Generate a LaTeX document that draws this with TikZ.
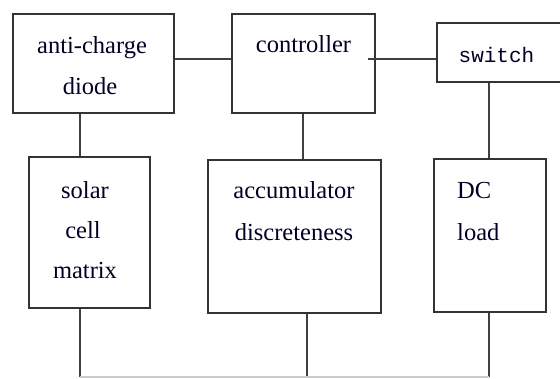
\documentclass[tikz,border=0pt]{standalone}
\usepackage{fontspec}
\setmainfont{Liberation Serif}
\setmonofont{Liberation Mono}
\begin{document}
\begin{tikzpicture}[x=1pt,y=-1pt,
  box/.style={draw=black!80, line width=2pt, rectangle, inner sep=0pt},
  wire/.style={draw=black!75, line width=2pt},
  faint/.style={draw=black!20, line width=1.2pt},
  lbl/.style={anchor=base, inner sep=0pt, text=black!85!blue, font=\fontsize{24.5}{24.5}\selectfont}]
\useasboundingbox (0,0) rectangle (560,378);
\clip (0,0) rectangle (560,378);
% boxes
\node[box, minimum width=161pt, minimum height=99pt] (diode) at (93.5,63.5) {};
\node[box, minimum width=143pt, minimum height=99pt] (ctrl) at (303.5,63.5) {};
\node[box, minimum width=140pt, minimum height=59pt] (sw) at (507,52.5) {};
\node[box, minimum width=121pt, minimum height=151pt] (solar) at (89.5,232.5) {};
\node[box, minimum width=173pt, minimum height=153pt] (acc) at (294.5,236) {};
\node[box, minimum width=112pt, minimum height=153pt] (dc) at (490,235.5) {};
% texts
\node[lbl] (t1) at (92,53) {anti-charge};
\node[lbl] (t2) at (90,94) {diode};
\node[lbl] (t3) at (303.5,52) {controller};
\node[lbl, font=\ttfamily\fontsize{21}{21}\selectfont] (t4) at (496.5,62) {switch};
\node[lbl] (t5) at (85,198) {solar};
\node[lbl] (t6) at (83,238) {cell};
\node[lbl] (t7) at (85,278) {matrix};
\node[lbl] (t8) at (294,198) {accumulator};
\node[lbl] (t9) at (294,240) {discreteness};
\node[lbl, anchor=base west] (t10) at (457,198) {DC};
\node[lbl, anchor=base west] (t11) at (457,240) {load};
% bottom ends
\coordinate (b1) at (80,377);
\coordinate (b2) at (307,377);
\coordinate (b3) at (488.5,377);
% connectors
\draw[wire] (diode.east |- 0,59) -- (ctrl.west |- 0,59);
\draw[wire] (368,59) -- (sw.west |- 0,59);
\draw[wire] (diode.south -| 80,0) -- (solar.north -| 80,0);
\draw[wire] (ctrl.south -| 303,0) -- (acc.north -| 303,0);
\draw[wire] (sw.south -| 488.5,0) -- (dc.north -| 488.5,0);
\draw[wire] (solar.south -| b1) -- (b1);
\draw[wire] (acc.south -| b2) -- (b2);
\draw[wire] (dc.south -| b3) -- (b3);
\draw[faint] (b1) -- (b3);
\end{tikzpicture}
\end{document}
